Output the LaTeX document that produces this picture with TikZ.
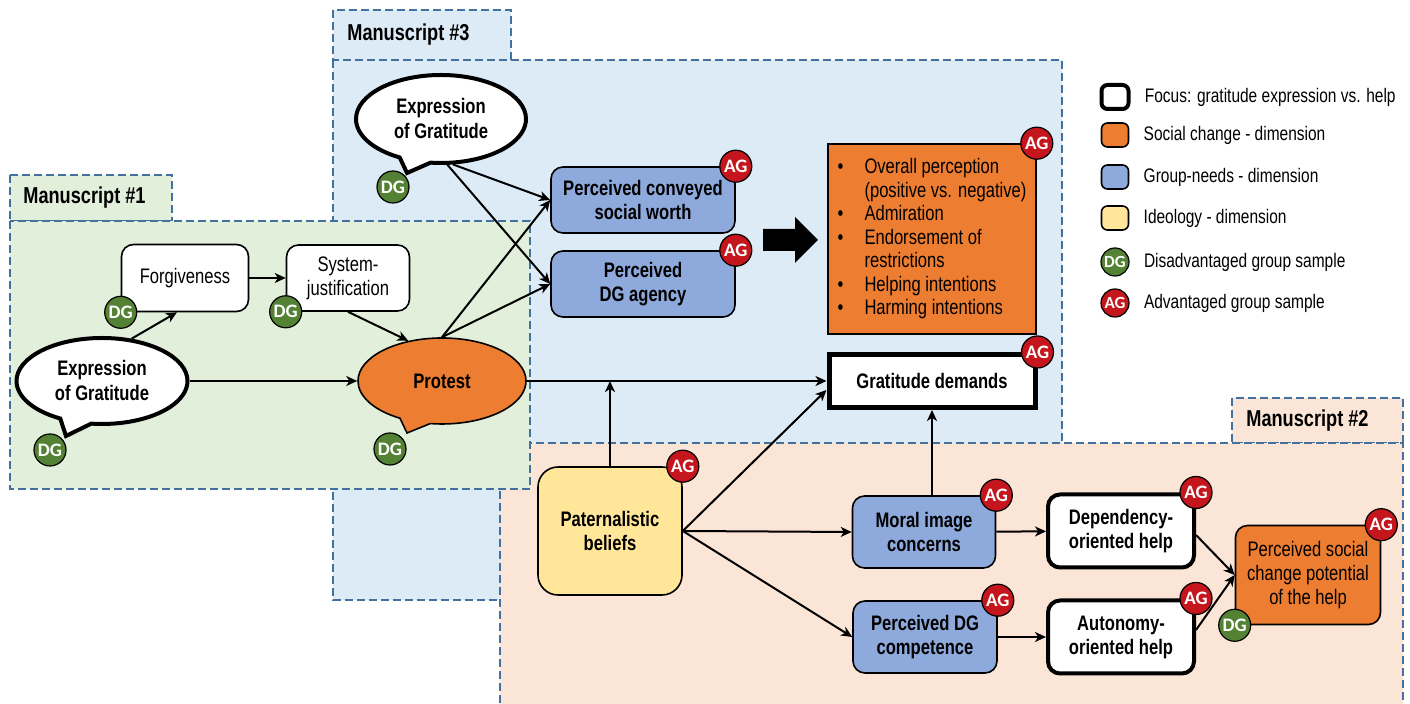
\documentclass[tikz,border=0pt]{standalone}
\usepackage{fontspec}
\setmainfont{Liberation Sans}[FakeStretch=0.79]
\newfontfamily\badgefont{Carlito}
\usetikzlibrary{shapes.geometric}
\usetikzlibrary{shapes.callouts}
\usetikzlibrary{positioning}
\usetikzlibrary{arrows.meta}
\definecolor{bluebg}{RGB}{221,235,247}
\definecolor{peachbg}{RGB}{251,229,214}
\definecolor{greenbg}{RGB}{226,239,218}
\definecolor{dashblue}{RGB}{65,113,156}
\definecolor{orangefill}{RGB}{237,125,49}
\definecolor{bluefill}{RGB}{142,169,219}
\definecolor{yellowfill}{RGB}{255,230,153}
\definecolor{dggreen}{RGB}{84,130,53}
\definecolor{agred}{RGB}{196,22,28}
\tikzset{
    region/.style = {draw=dashblue, line width=1.1pt, dash pattern=on 4pt off 2pt},
    mlabel/.style = {inner sep=0pt, font=\fontsize{11.5}{13}\selectfont\bfseries},
    boxw/.style = {rectangle, rounded corners=6pt, draw=black, line width=0.8pt, fill=white, align=center, inner sep=2pt},
    boxf/.style = {boxw, line width=2pt, font=\fontsize{10.5}{12}\selectfont\bfseries}, % focus
    boxb/.style = {boxw, fill=bluefill, font=\fontsize{10.5}{12}\selectfont\bfseries}, % group-needs
    boxo/.style = {boxw, fill=orangefill}, % social change
    boxy/.style = {boxw, fill=yellowfill, rounded corners=10pt, font=\fontsize{10.5}{12}\selectfont\bfseries}, % ideology
    callw/.style = {ellipse callout, draw=black, line width=2pt, fill=white, inner sep=0pt, callout pointer arc=22, align=center, font=\fontsize{10.5}{12.5}\selectfont\bfseries},
    dgnode/.style = {circle, draw=black, line width=0.6pt, fill=dggreen, text=white, minimum size=16pt, inner sep=0pt, font=\badgefont\bfseries\fontsize{9.5}{9.5}\selectfont},
    agnode/.style = {dgnode, fill=agred},
    legsq/.style = {rectangle, rounded corners=3pt, draw=black, line width=0.8pt, minimum width=13.5pt, minimum height=12pt},
    legtxt/.style = {inner sep=0pt, anchor=west, font=\fontsize{9.8}{12}\selectfont},
    edgen/.style = {-{Stealth[length=5.5pt,width=5pt,inset=1.6pt]}, line width=1pt}
}

\begin{document}
\begin{tikzpicture}[x=0.5pt, y=-0.5pt, font=\fontsize{10.5}{12}\selectfont]
  \useasboundingbox (0,0) rectangle (1410,704);
  \clip (0,0) rectangle (1410,704);
  \fill[white] (0,0) rectangle (1410,704);

  % manuscript regions
  \draw[region, fill=bluebg] (333,10) rectangle (511,60);
  \draw[region, fill=bluebg] (333,60) rectangle (1062,600);
  \node[mlabel, anchor=west] (m3) at (347,35) {Manuscript \#3};
  \draw[region, fill=peachbg] (1232,398) rectangle (1403,443);
  \draw[region, fill=peachbg] (500,443) rectangle (1403,720);
  \node[mlabel, anchor=west] (m2) at (1246,421) {Manuscript \#2};
  \draw[region, fill=greenbg] (10,175) rectangle (172,221);
  \draw[region, fill=greenbg] (10,221) rectangle (530,489);
  \node[mlabel, anchor=west] (m1) at (23,198) {Manuscript \#1};

  % manuscript 1
  \node[callw, minimum width=85.5pt, minimum height=43pt, callout absolute pointer={(66,436)}] (exprL) at (102,381) {Expression\\of Gratitude};
  \node[boxw, minimum width=63.5pt, minimum height=33.5pt] (forg) at (185,278) {Forgiveness};
  \node[boxw, minimum width=61.5pt, minimum height=33pt] (sysj) at (348,278) {System-\\justification};
  \node[callw, fill=orangefill, line width=0.8pt, minimum width=84pt, minimum height=43pt, callout absolute pointer={(407,433)}] (protest) at (442,381) {Protest};

  % manuscript 3
  \node[callw, minimum width=85pt, minimum height=44pt, callout absolute pointer={(407,173)}] (exprT) at (441,119) {Expression\\of Gratitude};
  \node[boxb, minimum width=92pt, minimum height=33pt] (pcsw) at (643,200) {Perceived conveyed\\social worth};
  \node[boxb, minimum width=92pt, minimum height=33pt] (pdga) at (643,284) {Perceived\\DG agency};
  \node[boxo, rounded corners=0pt, minimum width=104pt, minimum height=95pt, align=left, font=\fontsize{10.5}{11.75}\selectfont] (outc) at (932,239) {%
    \makebox[13.5pt][l]{\textbullet}Overall perception\\
    \hspace*{13.5pt}(positive vs. negative)\\
    \makebox[13.5pt][l]{\textbullet}Admiration\\
    \makebox[13.5pt][l]{\textbullet}Endorsement of\\
    \hspace*{13.5pt}restrictions\\
    \makebox[13.5pt][l]{\textbullet}Helping intentions\\
    \makebox[13.5pt][l]{\textbullet}Harming intentions};
  \fill (763,229) -- (795,229) -- (795,217) -- (818,240) -- (795,263) -- (795,251) -- (763,251) -- cycle;
  \node[boxf, rounded corners=0pt, line width=2.5pt, minimum width=103pt, minimum height=26.5pt] (gd) at (932,381) {Gratitude demands};

  % manuscript 2
  \node[boxy, minimum width=72pt, minimum height=64pt] (pat) at (610,531) {Paternalistic\\beliefs};
  \node[boxb, minimum width=71.5pt, minimum height=36pt] (moral) at (924,532) {Moral image\\concerns};
  \node[boxb, minimum width=72pt, minimum height=36pt] (comp) at (925,637) {Perceived DG\\competence};
  \node[boxf, minimum width=73pt, minimum height=36.5pt] (dep) at (1121,531) {Dependency-\\oriented help};
  \node[boxf, minimum width=73pt, minimum height=36.5pt] (aut) at (1121,637) {Autonomy-\\oriented help};
  \node[boxo, minimum width=72.5pt, minimum height=49.5pt] (soc) at (1308,575) {Perceived social\\change potential\\of the help};

  % samples
  \node[dgnode] (exprL-dg) at (50,450) {DG};
  \node[dgnode] (forg-dg) at (forg.south west) {DG};
  \node[dgnode] (sysj-dg) at (sysj.south west) {DG};
  \node[dgnode] (protest-dg) at (390,449) {DG};
  \node[dgnode] (exprT-dg) at (393,187) {DG};
  \node[agnode] (pcsw-ag) at (pcsw.north east) {AG};
  \node[agnode] (pdga-ag) at (pdga.north east) {AG};
  \node[agnode] (outc-ag) at (outc.north east) {AG};
  \node[agnode] (gd-ag) at (gd.north east) {AG};
  \node[agnode] (pat-ag) at (pat.north east) {AG};
  \node[agnode] (moral-ag) at (moral.north east) {AG};
  \node[agnode] (comp-ag) at (comp.north east) {AG};
  \node[agnode] (dep-ag) at (dep.north east) {AG};
  \node[agnode] (aut-ag) at (aut.north east) {AG};
  \node[agnode] (soc-ag) at (soc.north east) {AG};
  \node[dgnode] (soc-dg) at (soc.south west) {DG};

  % paths
  \draw[edgen] (exprL.55) -- ([xshift=-4pt]forg.south);
  \draw[edgen] (forg) -- (sysj);
  \draw[edgen] (sysj.south) -- (protest.130);
  \draw[edgen] (exprL) -- (protest);
  \draw[edgen] (protest.north) -- (pcsw.west);
  \draw[edgen] (protest.north) -- (pdga.west);
  \draw[edgen] (exprT.-75) -- (pcsw.west);
  \draw[edgen] (exprT.-82) -- (pdga.west);
  \draw[edgen] (protest.east) -- (gd.west);
  \draw[edgen] (pat.north) -- (pat.north |- gd.west);
  \draw[edgen] (pat.east) -- ([yshift=-4.5pt]gd.west);
  \draw[edgen] (pat.east) -- (moral.west);
  \draw[edgen] (pat.east) -- (comp.west);
  \draw[edgen] (gd.south |- moral.north) -- (gd.south);
  \draw[edgen] (moral) -- (dep);
  \draw[edgen] (comp) -- (aut);
  \draw[edgen] ([yshift=-2pt]dep.east) -- (soc.west);
  \draw[edgen] ([yshift=3.5pt]aut.east) -- (soc.west);

  % legend
  \node[legsq, line width=2pt, fill=white] (lg1) at (1115,97) {};
  \node[legtxt, right=7pt of lg1] (lt1) {Focus: gratitude expression vs. help};
  \node[legsq, fill=orangefill] (lg2) at (1115,135) {};
  \node[legtxt, right=7pt of lg2] (lt2) {Social change - dimension};
  \node[legsq, fill=bluefill] (lg3) at (1115,177) {};
  \node[legtxt, right=7pt of lg3] (lt3) {Group-needs - dimension};
  \node[legsq, fill=yellowfill] (lg4) at (1115,218) {};
  \node[legtxt, right=7pt of lg4] (lt4) {Ideology - dimension};
  \node[dgnode, minimum size=14pt, font=\badgefont\bfseries\fontsize{8.5}{8.5}\selectfont] (lg5) at (1115,262) {DG};
  \node[legtxt, right=7pt of lg5] (lt5) {Disadvantaged group sample};
  \node[agnode, minimum size=14pt, font=\badgefont\bfseries\fontsize{8.5}{8.5}\selectfont] (lg6) at (1115,303) {AG};
  \node[legtxt, right=7pt of lg6] (lt6) {Advantaged group sample};
\end{tikzpicture}
\end{document}
